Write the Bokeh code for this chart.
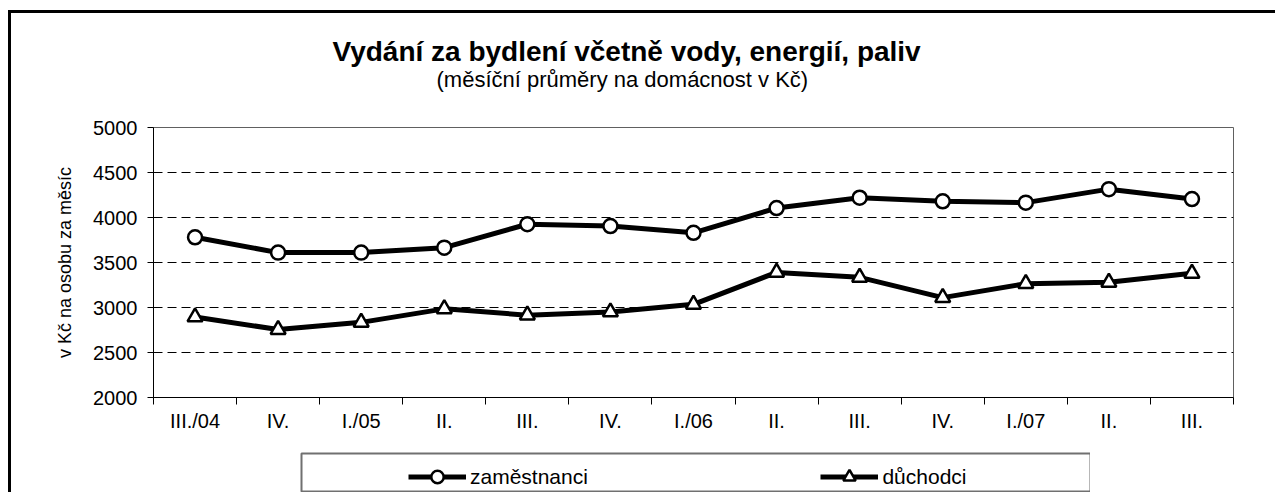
from bokeh.plotting import figure
from bokeh.models import Range1d, FixedTicker, Title, Legend, LegendItem
from bokeh.embed import file_html
from bokeh.resources import INLINE

categories = ["III./04", "IV.", "I./05", "II.", "III.", "IV.", "I./06",
              "II.", "III.", "IV.", "I./07", "II.", "III."]
zamestnanci = [3780, 3610, 3610, 3665, 3925, 3905, 3830, 4105, 4220, 4180, 4165, 4315, 4205]
duchodci = [2895, 2755, 2835, 2985, 2915, 2950, 3035, 3390, 3335, 3110, 3265, 3280, 3380]
y_ticks = [2000, 2500, 3000, 3500, 4000, 4500, 5000]
series_names = ["zaměstnanci", "důchodci"]
title_text = "Vydání za bydlení včetně vody, energií, paliv"
subtitle_text = "(měsíční průměry na domácnost v Kč)"
y_label = "v Kč na osobu za měsíc"

FONT = "Liberation Sans"
n = len(categories)
xs = list(range(1, n + 1))

p = figure(frame_width=1080, frame_height=270, output_backend="svg", toolbar_location=None,
           x_range=Range1d(0.5, n + 0.5), y_range=Range1d(y_ticks[0], y_ticks[-1]),
           min_border_left=142, min_border_right=42, min_border_top=114,
           min_border_bottom=43, title=None)
p.styles = {"border-left": "3px solid black", "border-top": "3px solid black",
            "margin-left": "8px", "margin-top": "10px"}
p.background_fill_color = "white"
p.border_fill_color = "white"
p.outline_line_color = "#606060"
p.outline_line_width = 1

# axes
xa = p.xaxis[0]
xa.ticker = FixedTicker(ticks=xs, minor_ticks=[x - 0.5 for x in xs] + [n + 0.5])
xa.major_label_overrides = {x: c for x, c in zip(xs, categories)}
xa.major_tick_out = 0
xa.major_tick_in = 0
xa.minor_tick_out = 7
xa.minor_tick_in = 0
xa.minor_tick_line_color = "black"
xa.axis_line_color = "black"
xa.major_label_standoff = 5
xa.major_label_text_font = FONT
xa.major_label_text_font_size = "20px"
xa.major_label_text_color = "black"

ya = p.yaxis[0]
ya.ticker = FixedTicker(ticks=y_ticks)
ya.major_tick_out = 6
ya.major_tick_in = 0
ya.minor_tick_line_color = None
ya.major_tick_line_color = "black"
ya.axis_line_color = "black"
ya.major_label_standoff = 10
ya.major_label_text_font = FONT
ya.major_label_text_font_size = "20px"
ya.major_label_text_color = "black"
ya.axis_label = y_label
ya.axis_label_text_font = FONT
ya.axis_label_text_font_size = "18px"
ya.axis_label_text_font_style = "normal"
ya.axis_label_text_color = "black"
ya.axis_label_standoff = 15

p.xgrid.visible = False
p.ygrid.ticker = FixedTicker(ticks=y_ticks[1:])
p.ygrid.grid_line_color = "black"
p.ygrid.grid_line_dash = "9 5"
p.ygrid.grid_line_width = 1

# titles (nearest the frame first)
p.add_layout(Title(text=" ", text_font_size="1px", standoff=33), "above")
p.add_layout(Title(text=subtitle_text, align="left", offset=283, standoff=0,
                   text_font=FONT, text_font_size="22px", text_font_style="normal",
                   text_color="black"), "above")
p.add_layout(Title(text=title_text, align="left", offset=179, standoff=-4,
                   text_font=FONT, text_font_size="28px", text_font_style="bold",
                   text_color="black"), "above")

# data
p.line(xs, zamestnanci, line_color="black", line_width=5)
p.line(xs, duchodci, line_color="black", line_width=5)
p.scatter(xs, zamestnanci, marker="circle", size=14, fill_color="white",
          line_color="black", line_width=2.5)
p.scatter(xs, duchodci, marker="triangle", size=15, fill_color="white",
          line_color="black", line_width=2.5)

# legend strip (its frame is the legend box), a separate root below the chart
lf = figure(frame_width=789, frame_height=39, output_backend="svg", toolbar_location=None,
            x_range=Range1d(-2, -1), y_range=Range1d(0, 1),
            min_border_left=290, min_border_right=0, min_border_top=13,
            min_border_bottom=0, title=None, x_axis_location=None, y_axis_location=None)
lf.styles = {"border-left": "3px solid black", "margin-left": "8px"}
lf.grid.visible = False
lf.outline_line_color = "#707070"
lf.outline_line_width = 2
lf.background_fill_color = "white"
lf.border_fill_color = "white"
g1 = lf.line(xs, zamestnanci, line_color="black", line_width=5)
m1 = lf.scatter(xs, zamestnanci, marker="circle", size=14, fill_color="white",
                line_color="black", line_width=2.5)
g2 = lf.line(xs, duchodci, line_color="black", line_width=5)
m2 = lf.scatter(xs, duchodci, marker="triangle", size=15, fill_color="white",
                line_color="black", line_width=2.5)

legend = Legend(items=[LegendItem(label=series_names[0] + " " * 39, renderers=[g1, m1]),
                       LegendItem(label=series_names[1], renderers=[g2, m2])],
                location=(107, 0), orientation="horizontal", padding=4, margin=0,
                spacing=5, glyph_width=58, glyph_height=31, label_width=0,
                label_standoff=4, label_text_font=FONT, label_text_font_size="21px",
                label_text_color="black", border_line_color=None,
                background_fill_alpha=0)
lf.add_layout(legend, "center")

open("out.html", "w").write(file_html([p, lf], INLINE))
